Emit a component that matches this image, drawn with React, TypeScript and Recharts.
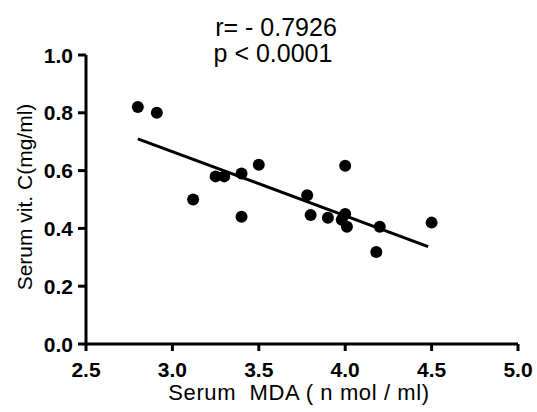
import React from 'react';
import {
  ScatterChart,
  Scatter,
  XAxis,
  YAxis,
  ReferenceLine,
} from 'recharts';

const mdaValues = [2.8, 2.91, 3.12, 3.25, 3.3, 3.4, 3.4, 3.5, 3.78, 3.8, 3.9, 4.0, 3.98, 4.0, 4.01, 4.2, 4.18, 4.5];
const vitCValues = [0.82, 0.8, 0.5, 0.58, 0.58, 0.59, 0.44, 0.62, 0.515, 0.446, 0.437, 0.617, 0.43, 0.45, 0.406, 0.406, 0.318, 0.42];

const fitX = [2.8, 4.48];
const fitY = [0.71, 0.337];

const xTicks = [2.5, 3.0, 3.5, 4.0, 4.5, 5.0];
const yTicks = [0, 0.2, 0.4, 0.6, 0.8, 1.0];

const titleLines = ['r= - 0.7926', 'p < 0.0001'];
const xLabel = 'Serum  MDA ( n mol / ml)';
const yLabel = 'Serum vit. C(mg/ml)';

const FONT = '"Liberation Sans", Arial, Helvetica, sans-serif';

const points = mdaValues.map((x, i) => ({ x, y: vitCValues[i] }));

const XTick = (props: any) => {
  const { x, y, payload } = props;
  return (
    <text x={x} y={y + 26} textAnchor="middle" fontFamily={FONT} fontSize={21} fontWeight="bold" fill="#000">
      {payload.value.toFixed(1)}
    </text>
  );
};

const YTick = (props: any) => {
  const { x, y, payload } = props;
  return (
    <text x={x - 5} y={y} dy="0.36em" textAnchor="end" fontFamily={FONT} fontSize={21} fontWeight="bold" fill="#000">
      {payload.value.toFixed(1)}
    </text>
  );
};

export default function App() {
  return (
    <div style={{ position: 'absolute', left: 0, top: 0, width: 537, height: 412, background: '#fff' }}>
      <ScatterChart width={537} height={412} margin={{ top: 55, right: 19, bottom: 0, left: 26 }}>
        <XAxis
          type="number"
          dataKey="x"
          domain={[2.5, 5]}
          ticks={xTicks}
          height={68}
          tickSize={7}
          tickMargin={0}
          axisLine={{ stroke: '#000', strokeWidth: 3 }}
          tickLine={{ stroke: '#000', strokeWidth: 3 }}
          tick={<XTick />}
          allowDataOverflow
        />
        <YAxis
          type="number"
          dataKey="y"
          domain={[0, 1]}
          ticks={yTicks}
          width={60}
          tickSize={8}
          tickMargin={0}
          axisLine={{ stroke: '#000', strokeWidth: 3 }}
          tickLine={{ stroke: '#000', strokeWidth: 3 }}
          tick={<YTick />}
          allowDataOverflow
        />
        <ReferenceLine
          segment={[
            { x: fitX[0], y: fitY[0] },
            { x: fitX[1], y: fitY[1] },
          ]}
          stroke="#000"
          strokeWidth={3}
          ifOverflow="visible"
        />
        <Scatter
          data={points}
          fill="#000"
          isAnimationActive={false}
          shape={(p: any) => <circle cx={p.cx} cy={p.cy} r={6} fill="#000" />}
        />
      </ScatterChart>
      <svg
        width={537}
        height={412}
        style={{ position: 'absolute', left: 0, top: 0, pointerEvents: 'none' }}
        fontFamily={FONT}
        fill="#000"
      >
        <text x={276} y={36} textAnchor="middle" fontSize={25}>
          {titleLines[0]}
        </text>
        <text x={273} y={62} textAnchor="middle" fontSize={25}>
          {titleLines[1]}
        </text>
        <text x={299} y={400} textAnchor="middle" fontSize={22} letterSpacing={0.6} style={{ whiteSpace: 'pre' }}>
          {xLabel}
        </text>
        <text
          x={32}
          y={197}
          textAnchor="middle"
          fontSize={21}
          transform="rotate(-90 32 197)"
          style={{ whiteSpace: 'pre' }}
        >
          {yLabel}
        </text>
      </svg>
    </div>
  );
}
